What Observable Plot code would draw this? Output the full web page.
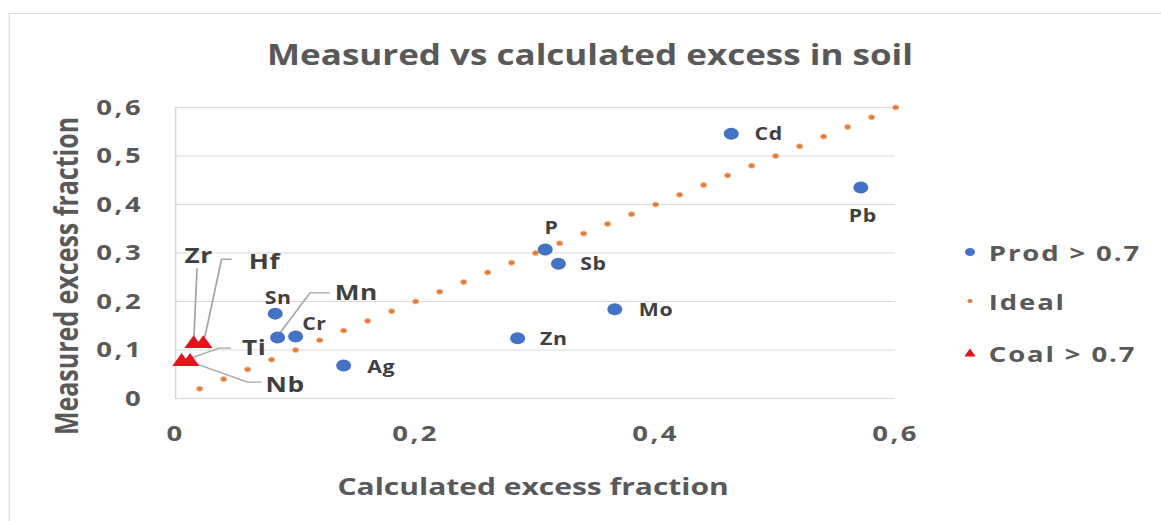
<!DOCTYPE html>
<html>
<head>
<meta charset="utf-8">
<script src="https://cdn.jsdelivr.net/npm/d3@7"></script>
<script src="https://cdn.jsdelivr.net/npm/@observablehq/plot@0.6"></script>
<style>
  html, body { margin: 0; padding: 0; background: #fff; overflow: hidden; }
  #stage { position: absolute; left: 0; top: 0; width: 928.8px; height: 521px;
           transform: scaleX(1.25); transform-origin: 0 0;
           font-family: "Open Sans", sans-serif; color: #595959; }
  #frame { position: absolute; left: 7px; top: 13px; width: 1000px; height: 600px;
           border-left: 1px solid #d9d9d9; border-top: 1px solid #d9d9d9; }
  #title { position: absolute; left: 0; top: 38px; width: 944px; height: 32px; line-height: 32px;
           text-align: center; font-size: 28px; font-weight: 700; color: #595959; white-space: nowrap; }
  #chart { position: absolute; left: 0; top: 80px; }
  #chart g[aria-label="y-axis tick label"] text,
  #chart g[aria-label="x-axis tick label"] text { letter-spacing: 2px; }
  #chart g.ptlabel text { letter-spacing: 0.5px; }
  .lg { position: absolute; left: 768px; height: 30px; display: flex; align-items: center;
        font-size: 22px; font-weight: 700; color: #595959; white-space: nowrap; letter-spacing: 1.5px; }
  .lg svg { width: 16px; height: 16px; margin-right: 7px; }
</style>
</head>
<body>
<div id="stage">
  <div id="frame"></div>
  <div id="title"></div>
  <div id="chart"></div>
  <div id="legend"></div>
</div>
<script>
// ---------- data ----------
const titleText = "Measured vs calculated excess in soil";
const xLabel = "Calculated excess fraction";
const yLabel = "Measured excess fraction";

const prodNames = ["Sn", "Mn", "Cr", "Ag", "Zn", "P", "Sb", "Mo", "Cd", "Pb"];
const prodCalc  = [0.083, 0.085, 0.100, 0.140, 0.285, 0.308, 0.319, 0.366, 0.463, 0.571];
const prodMeas  = [0.175, 0.126, 0.128, 0.068, 0.124, 0.307, 0.278, 0.184, 0.546, 0.435];

const coalNames = ["Zr", "Hf", "Ti", "Nb"];
const coalCalc  = [0.015, 0.023, 0.005, 0.012];
const coalMeas  = [0.113, 0.113, 0.076, 0.076];

const idealCalc = [0.02, 0.04, 0.06, 0.08, 0.10, 0.12, 0.14, 0.16, 0.18, 0.20,
                   0.22, 0.24, 0.26, 0.28, 0.30, 0.32, 0.34, 0.36, 0.38, 0.40,
                   0.42, 0.44, 0.46, 0.48, 0.50, 0.52, 0.54, 0.56, 0.58, 0.60];
const idealMeas = [0.02, 0.04, 0.06, 0.08, 0.10, 0.12, 0.14, 0.16, 0.18, 0.20,
                   0.22, 0.24, 0.26, 0.28, 0.30, 0.32, 0.34, 0.36, 0.38, 0.40,
                   0.42, 0.44, 0.46, 0.48, 0.50, 0.52, 0.54, 0.56, 0.58, 0.60];

const xTicks = [0, 0.2, 0.4, 0.6];
const yTicks = [0, 0.1, 0.2, 0.3, 0.4, 0.5, 0.6];

const seriesNames = ["Prod > 0.7", "Ideal", "Coal > 0.7"];

// ---------- layout / style (pixels, not data) ----------
const colors = { prod: "#4472C4", ideal: "#E07B39", idealStroke: "#f6b98c", coal: "#E8101A",
                 text: "#595959", label: "#404040", grid: "#d9d9d9", leader: "#a6a6a6" };
const labelLayout = {
  Sn: { dx: 2.4, dy: -15, size: 17 }, Mn: { dx: 63, dy: -44, size: 21 },
  Cr: { dx: 15, dy: -12, size: 17 }, Ag: { dx: 30, dy: 2, size: 17 },
  Zn: { dx: 29, dy: 1, size: 17 },   P:  { dx: 5, dy: -21, size: 17 },
  Sb: { dx: 28, dy: 1, size: 17 },   Mo: { dx: 33, dy: 1, size: 17 },
  Cd: { dx: 30, dy: 1, size: 17 },   Pb: { dx: 1.6, dy: 29, size: 17 },
  Zr: { dx: 4, dy: -87, size: 21 },  Hf: { dx: 49, dy: -81, size: 21 },
  Ti: { dx: 58, dy: -13, size: 21 }, Nb: { dx: 76, dy: 24, size: 21 }
};
const leaderLayout = {
  Zr: [[0.8, -7], [3.2, -75]],
  Hf: [[1.6, -5], [15.2, -84], [23.2, -84]],
  Ti: [[3.2, -1], [30.4, -13], [40, -13]],
  Nb: [[1.6, 1], [46.4, 21], [57.6, 21]],
  Mn: [[2.4, -4], [26.4, -44], [42.4, -44]]
};

// ---------- build tables ----------
const prod = prodNames.map((n, i) => ({ name: n, x: prodCalc[i], y: prodMeas[i] }));
const coal = coalNames.map((n, i) => ({ name: n, x: coalCalc[i], y: coalMeas[i] }));
const ideal = idealCalc.map((x, i) => ({ x, y: idealMeas[i] }));
const allPts = [...prod, ...coal];

const fmt = d => d === 0 ? "0" : d3.format(".1f")(d).replace(".", ",");

document.getElementById("title").textContent = titleText;

const leaderMark = (index, scales) => {
  const g = d3.create("svg:g").attr("fill", "none").attr("stroke", colors.leader).attr("stroke-width", 1.4);
  for (const p of allPts) {
    const pts = leaderLayout[p.name];
    if (!pts) continue;
    const px = scales.x(p.x), py = scales.y(p.y);
    g.append("path").attr("d", d3.line()(pts.map(([dx, dy]) => [px + dx, py + dy])));
  }
  return g.node();
};

const labelMarks = allPts.map(p => {
  const L = labelLayout[p.name];
  return Plot.text([p], { x: "x", y: "y", text: "name", dx: L.dx, dy: L.dy,
    fontSize: L.size, fontWeight: 700, fill: colors.label, className: "ptlabel" });
});

const chart = Plot.plot({
  width: 760, height: 440,
  marginLeft: 140, marginRight: 44, marginTop: 27, marginBottom: 122,
  style: { fontFamily: "'Open Sans', sans-serif", fontSize: "22px", color: colors.text,
           background: "transparent", overflow: "visible" },
  x: { domain: [0, 0.6] },
  y: { domain: [0, 0.6] },
  marks: [
    Plot.gridY(yTicks, { stroke: colors.grid, strokeOpacity: 1, strokeWidth: 1.2 }),
    Plot.ruleX([0], { stroke: colors.grid, strokeWidth: 1.2 }),
    Plot.axisY({ ticks: yTicks, tickSize: 0, tickPadding: 26, tickFormat: fmt,
                 fontSize: 22, fontWeight: 700, fill: colors.text, label: null }),
    Plot.axisX({ ticks: xTicks, tickSize: 0, tickPadding: 27, tickFormat: fmt,
                 fontSize: 22, fontWeight: 700, fill: colors.text, label: null }),
    Plot.text([yLabel], { frameAnchor: "left", textAnchor: "middle", rotate: -90, dx: -86, dy: 23,
                 text: d => d, fontSize: 25, fontWeight: 700, fill: colors.text }),
    Plot.text([xLabel], { frameAnchor: "bottom", textAnchor: "middle", dx: -2, dy: 96, text: d => d,
                 fontSize: 24, fontWeight: 700, fill: colors.text }),
    Plot.dot(ideal, { x: "x", y: "y", r: 2.5, fill: colors.ideal, stroke: colors.idealStroke, strokeWidth: 0.8 }),
    leaderMark,
    Plot.dot(prod, { x: "x", y: "y", r: 6, fill: colors.prod }),
    Plot.dot(coal, { x: "x", y: "y", symbol: "triangle", r: 5.5, fill: colors.coal }),
    ...labelMarks
  ]
});
document.getElementById("chart").appendChild(chart);

// ---------- legend ----------
const legendRows = [
  { name: seriesNames[0], top: 237, svg: `<circle cx="8" cy="8" r="4" fill="${colors.prod}"/>` },
  { name: seriesNames[1], top: 286, svg: `<circle cx="8" cy="8" r="2" fill="${colors.ideal}"/>` },
  { name: seriesNames[2], top: 338, svg: `<path d="M8,3.5 L12.5,11.5 L3.5,11.5 Z" fill="${colors.coal}"/>` }
];
const legend = document.getElementById("legend");
for (const r of legendRows) {
  const div = document.createElement("div");
  div.className = "lg";
  div.style.top = r.top + "px";
  div.innerHTML = `<svg viewBox="0 0 16 16">${r.svg}</svg><span></span>`;
  div.querySelector("span").textContent = r.name;
  legend.appendChild(div);
}
</script>
</body>
</html>
